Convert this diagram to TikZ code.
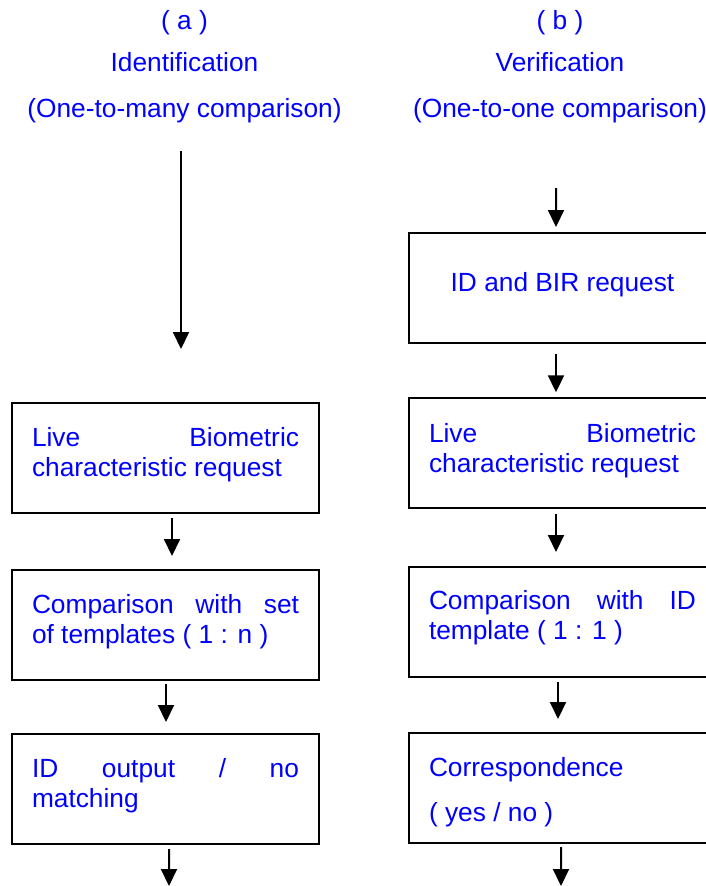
\documentclass[tikz,border=0pt]{standalone}
\usepackage{fontspec}
\setmainfont{Liberation Sans}
\usetikzlibrary{arrows.meta}
\newcommand\bxtxt[2]{\parbox[c][110bp][t]{267bp}{\rule{0pt}{#1}#2}}
\begin{document}
\begin{tikzpicture}[x=1bp,y=-1bp,
  every node/.style={font=\fontsize{26.3bp}{30bp}\selectfont, text=blue},
  ttl/.style={anchor=base, inner sep=0pt},
  box/.style={draw=black, line width=2.2bp, anchor=north west, inner xsep=20bp, inner ysep=0pt, outer sep=0pt},
  arr/.style={draw=black, line width=2bp, -{Triangle[width=16bp,length=17bp]}}
]
\useasboundingbox (0,0) rectangle (706,886);

% titles
\node[ttl] (ta1) at (184.5,29.3) {( a )};
\node[ttl] (ta2) at (184.5,71.7) {Identification};
\node[ttl] (ta3) at (184.5,117.3) {(One-to-many comparison)};
\node[ttl] (tb1) at (560,29.3) {( b )};
\node[ttl] (tb2) at (560,71.7) {Verification};
\node[ttl] (tb3) at (560,117.3) {(One-to-one comparison)};

% left column
\node[box] (b1) at (12,403.3) {\bxtxt{43.5bp}{Live\hfill Biometric\\characteristic request}};
\node[box] (b2) at (12,570) {\bxtxt{43bp}{Comparison\hfill with\hfill set\\of templates ( 1 : n )}};
\node[box] (b3) at (12,734.3) {\bxtxt{43bp}{ID\hfill output\hfill /\hfill no\\matching}};

% right column
\node[box] (r1) at (409,233.3) {\bxtxt{58.4bp}{\centering ID and BIR request}};
\node[box] (r2) at (409,398.3) {\bxtxt{44bp}{Live\hfill Biometric\\characteristic request}};
\node[box] (r3) at (409,567) {\bxtxt{42bp}{Comparison\hfill with\hfill ID\\template ( 1 : 1 )}};
\node[box] (r4) at (409,733.3) {\bxtxt{43.4bp}{Correspondence\\[15bp]( yes / no )}};

% free ends
\coordinate (a0s) at (181,151);
\coordinate (a0e) at (181,349);
\coordinate (aout) at (169,886);
\coordinate (r0s) at (556,188);
\coordinate (rout) at (561,886);

% left arrows
\draw[arr] (a0s) -- (a0e);
\draw[arr] ([shift={(6.5,4.7)}]b1.south) -- ([shift={(6.5,-14)}]b2.north);
\draw[arr] ([shift={(0.5,4)}]b2.south) -- ([shift={(0.5,-12.3)}]b3.north);
\draw[arr] ([shift={(3.5,4.7)}]b3.south) -- (aout);

% right arrows
\draw[arr] (r0s) -- ([shift={(-6.5,-6.3)}]r1.north);
\draw[arr] ([shift={(-6.5,10.7)}]r1.south) -- ([shift={(-6.5,-6)}]r2.north);
\draw[arr] ([shift={(-6.5,5.7)}]r2.south) -- ([shift={(-6.5,-15)}]r3.north);
\draw[arr] ([shift={(-4.5,5)}]r3.south) -- ([shift={(-4.5,-14.3)}]r4.north);
\draw[arr] ([shift={(-1.5,3.7)}]r4.south) -- (rout);
\end{tikzpicture}
\end{document}
